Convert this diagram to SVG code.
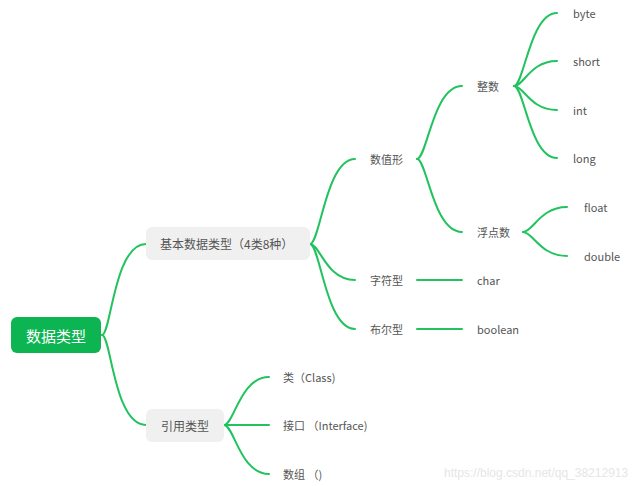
<svg xmlns="http://www.w3.org/2000/svg" width="642" height="486" viewBox="0 0 642 486">
<style>
.c{fill:none;stroke:#22c35e;stroke-width:2;stroke-linecap:round}
.t{font-family:"Noto Sans CJK SC","Liberation Sans",sans-serif;font-size:11px;fill:#555;dominant-baseline:central}
.b{fill:#f0f0f0}
</style>
<rect width="642" height="486" fill="#fff"/>
<g id="connectors">
<path class="c" d="M102,335 C111,335 114,244 146,244"/>
<path class="c" d="M102,335 C111,335 114,425 146,425"/>
<path class="c" d="M310,244 C320,244 326,159 355,159"/>
<path class="c" d="M310,244 C320,244 326,280 355,280"/>
<path class="c" d="M310,244 C320,244 326,329 355,329"/>
<path class="c" d="M417,159 C427,159 433,86 462,86"/>
<path class="c" d="M417,159 C427,159 433,232 462,232"/>
<path class="c" d="M514,86 C524,86 530,13 557,13"/>
<path class="c" d="M514,86 C524,86 530,61 557,61"/>
<path class="c" d="M514,86 C524,86 530,110 557,110"/>
<path class="c" d="M514,86 C524,86 530,158 557,158"/>
<path class="c" d="M523,232 C533,232 540,207 567,207"/>
<path class="c" d="M523,232 C533,232 540,256 567,256"/>
<path class="c" d="M417,280 L462,280"/>
<path class="c" d="M417,329 L462,329"/>
<path class="c" d="M224,425 C234,425 240,377 269,377"/>
<path class="c" d="M224,425 L269,425"/>
<path class="c" d="M224,425 C234,425 240,474 269,474"/>
</g>
<g id="root">
<rect x="11" y="317" width="90" height="36" rx="6" fill="#0db552"/>
<text x="56" y="335" text-anchor="middle" style="font-family:'Noto Sans CJK SC',sans-serif;font-size:15px;fill:#fff;dominant-baseline:central">数据类型</text>
</g>
<g id="basic">
<rect class="b" x="146" y="227" width="164" height="33" rx="6"/>
<text class="t" x="160" y="243" style="font-size:12px">基本数据类型（4类8种）</text>
</g>
<g id="ref">
<rect class="b" x="146" y="409" width="78" height="33" rx="6"/>
<text class="t" x="185" y="425" text-anchor="middle" style="font-size:12px">引用类型</text>
</g>
<g id="numeric"><text class="t" x="370" y="159">数值形</text></g>
<g id="char-type"><text class="t" x="370" y="280">字符型</text></g>
<g id="bool-type"><text class="t" x="370" y="329">布尔型</text></g>
<g id="integer"><text class="t" x="477" y="86">整数</text></g>
<g id="floating"><text class="t" x="477" y="232">浮点数</text></g>
<g id="byte"><text class="t" x="573" y="13">byte</text></g>
<g id="short"><text class="t" x="573" y="61">short</text></g>
<g id="int"><text class="t" x="573" y="110">int</text></g>
<g id="long"><text class="t" x="573" y="158">long</text></g>
<g id="float"><text class="t" x="584" y="207">float</text></g>
<g id="double"><text class="t" x="584" y="256">double</text></g>
<g id="char"><text class="t" x="477" y="280">char</text></g>
<g id="boolean"><text class="t" x="477" y="329">boolean</text></g>
<g id="class"><text class="t" x="283" y="377">类（Class)</text></g>
<g id="interface"><text class="t" x="283" y="425">接口 （Interface)</text></g>
<g id="array"><text class="t" x="283" y="474">数组 （)</text></g>
<text x="444" y="477" style="font-family:'Liberation Sans',sans-serif;font-size:12px;fill:#e6e6e6">https://blog.csdn.net/qq_38212913</text>
</svg>
